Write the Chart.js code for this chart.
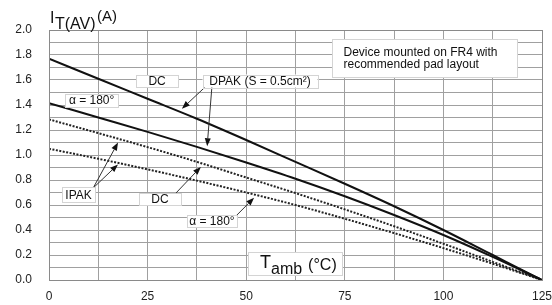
<!DOCTYPE html>
<html>
<head>
<meta charset="utf-8">
<script src="https://cdn.jsdelivr.net/npm/chart.js@4/dist/chart.umd.min.js"></script>
<style>
  html, body { margin: 0; padding: 0; background: #fff; }
  #wrap { width: 552px; height: 305px; position: relative; }
</style>
</head>
<body>
<div id="wrap"><canvas id="derating"></canvas></div>
<script>
// Ambient temperature samples (°C) and current values (A)
const temps    = [0, 12.5, 25, 37.5, 50, 62.5, 75, 87.5, 100, 112.5, 125];
const dpakDc   = [1.77, 1.61, 1.45, 1.29, 1.12, 0.945, 0.77, 0.59, 0.40, 0.20, 0];
const dpakHalf = [1.415, 1.30, 1.185, 1.065, 0.94, 0.81, 0.67, 0.52, 0.36, 0.185, 0];
const ipakDc   = [1.285, 1.175, 1.063, 0.945, 0.82, 0.695, 0.565, 0.43, 0.29, 0.145, 0];
const ipakHalf = [1.05, 0.97, 0.885, 0.795, 0.70, 0.60, 0.49, 0.375, 0.255, 0.13, 0];

const FONT = "'Liberation Sans', Arial, sans-serif";

const toPoints = (vals) => vals.map((v, i) => ({ x: temps[i], y: v }));

// label boxes: centre in data units, size in px
const labelBoxes = [
    { text: 'DC', x: 27.4, y: 1.592, w: 42, h: 12 },
    { text: 'DPAK (S = 0.5cm\u00B2)', x: 53.5, y: 1.592, w: 115, h: 13 },
    { text: '\u03B1 = 180\u00B0', x: 10.8, y: 1.436, w: 53, h: 13 },
    { text: 'IPAK', x: 7.5, y: 0.68, w: 33, h: 15 },
    { text: 'DC', x: 28.15, y: 0.648, w: 42, h: 12 },
    { text: '\u03B1 = 180\u00B0', x: 41.3, y: 0.472, w: 50, h: 12 }
];

// arrows: from label to curve, data units
const arrows = [
    [39.6, 1.544, 33.7, 1.37],
    [41.3, 1.544, 40.1, 1.07],
    [11.2, 0.736, 17.5, 1.10],
    [11.2, 0.736, 17.5, 0.925],
    [32.2, 0.696, 38.5, 0.905],
    [47.4, 0.512, 52.0, 0.658]
];

function drawBox(ctx, cx, cy, w, h) {
    ctx.fillStyle = '#fff';
    ctx.fillRect(cx - w / 2, cy - h / 2, w, h);
    ctx.strokeStyle = '#d4d4d4';
    ctx.lineWidth = 1;
    ctx.strokeRect(Math.round(cx - w / 2) + 0.5, Math.round(cy - h / 2) + 0.5, w, h);
}

function drawArrow(ctx, x1, y1, x2, y2) {
    const ang = Math.atan2(y2 - y1, x2 - x1);
    const len = 8, half = 3;
    const bx = x2 - len * Math.cos(ang), by = y2 - len * Math.sin(ang);
    ctx.strokeStyle = '#333';
    ctx.lineWidth = 1;
    ctx.beginPath();
    ctx.moveTo(x1, y1);
    ctx.lineTo(bx, by);
    ctx.stroke();
    ctx.fillStyle = '#111';
    ctx.beginPath();
    ctx.moveTo(x2, y2);
    ctx.lineTo(bx + half * Math.sin(ang), by - half * Math.cos(ang));
    ctx.lineTo(bx - half * Math.sin(ang), by + half * Math.cos(ang));
    ctx.closePath();
    ctx.fill();
}

const annotationPlugin = {
    id: 'notes',
    afterDatasetsDraw(chart) {
        const ctx = chart.ctx;
        const xs = chart.scales.x, ys = chart.scales.y;
        ctx.save();

        // plot frame
        const a = chart.chartArea;
        ctx.strokeStyle = '#8a8a8a';
        ctx.lineWidth = 1;
        ctx.strokeRect(Math.round(a.left) + 0.5, Math.round(a.top) + 0.5,
                       Math.round(a.right - a.left), Math.round(a.bottom - a.top));

        arrows.forEach(([fx, fy, tx, ty]) => {
            drawArrow(ctx, xs.getPixelForValue(fx), ys.getPixelForValue(fy),
                      xs.getPixelForValue(tx), ys.getPixelForValue(ty));
        });

        ctx.textBaseline = 'middle';
        ctx.font = '12px ' + FONT;
        labelBoxes.forEach(b => {
            const cx = xs.getPixelForValue(b.x), cy = ys.getPixelForValue(b.y);
            drawBox(ctx, cx, cy, b.w, b.h);
            ctx.fillStyle = '#111';
            ctx.textAlign = 'center';
            ctx.fillText(b.text, cx, cy + 0.5);
        });

        // note box top right
        const nx = xs.getPixelForValue(95.2), ny = ys.getPixelForValue(1.776);
        drawBox(ctx, nx, ny, 185, 38);
        ctx.fillStyle = '#111';
        ctx.textAlign = 'left';
        ctx.font = '12px ' + FONT;
        ctx.fillText('Device mounted on FR4 with', nx - 81, ny - 5);
        ctx.fillText('recommended pad layout', nx - 81, ny + 7);

        // x axis title box
        const tx = xs.getPixelForValue(62.4), ty = ys.getPixelForValue(0.132);
        drawBox(ctx, tx, ty, 94, 23);
        ctx.fillStyle = '#111';
        ctx.textBaseline = 'alphabetic';
        ctx.font = '18px ' + FONT;
        ctx.fillText('T', tx - 35, ty + 4);
        ctx.font = '16px ' + FONT;
        ctx.fillText('amb', tx - 24, ty + 10);
        ctx.font = '16px ' + FONT;
        ctx.fillText('(\u00B0C)', tx + 13, ty + 6);

        // y axis title
        ctx.font = '16px ' + FONT;
        ctx.fillText('I', 50, 23);
        ctx.fillText('T(AV)', 55, 29);
        ctx.font = '15px ' + FONT;
        ctx.fillText('(A)', 97, 21);

        ctx.restore();
    }
};

const lineStyle = (label, vals, dashed) => ({
    label: label,
    data: toPoints(vals),
    borderColor: dashed ? '#222' : '#111',
    borderWidth: 2,
    borderDash: dashed ? [2, 1.5] : [],
    pointRadius: 0,
    fill: false,
    cubicInterpolationMode: 'monotone'
});

new Chart(document.getElementById('derating'), {
    type: 'line',
    data: {
        datasets: [
            lineStyle('DPAK DC', dpakDc, false),
            lineStyle('DPAK \u03B1 = 180\u00B0', dpakHalf, false),
            lineStyle('IPAK DC', ipakDc, true),
            lineStyle('IPAK \u03B1 = 180\u00B0', ipakHalf, true)
        ]
    },
    options: {
        responsive: true,
        maintainAspectRatio: false,
        animation: false,
        layout: { padding: { top: 30, right: 10, left: 0, bottom: 0 } },
        plugins: {
            legend: { display: false },
            tooltip: { enabled: false }
        },
        scales: {
            x: {
                type: 'linear',
                min: 0,
                max: 125,
                border: { display: false },
                grid: { color: '#a0a0a0', lineWidth: 1, drawTicks: false },
                ticks: {
                    stepSize: 12.5,
                    autoSkip: false,
                    maxRotation: 0,
                    padding: 9,
                    color: '#222',
                    font: { family: FONT, size: 12 },
                    callback: v => (v % 25 === 0 ? String(v) : '')
                },
                afterFit: s => { s.height = 25; s.paddingLeft = 0; s.paddingRight = 0; }
            },
            y: {
                min: 0,
                max: 2,
                border: { display: false },
                grid: { color: '#a0a0a0', lineWidth: 1, drawTicks: false },
                ticks: {
                    stepSize: 0.1,
                    autoSkip: false,
                    padding: 17,
                    color: '#222',
                    font: { family: FONT, size: 12 },
                    callback: v => (Math.round(v * 10) % 2 === 0 ? v.toFixed(1) : '')
                },
                afterFit: s => { s.width = 49; s.paddingTop = 0; s.paddingBottom = 0; }
            }
        }
    },
    plugins: [annotationPlugin]
});
</script>
</body>
</html>
